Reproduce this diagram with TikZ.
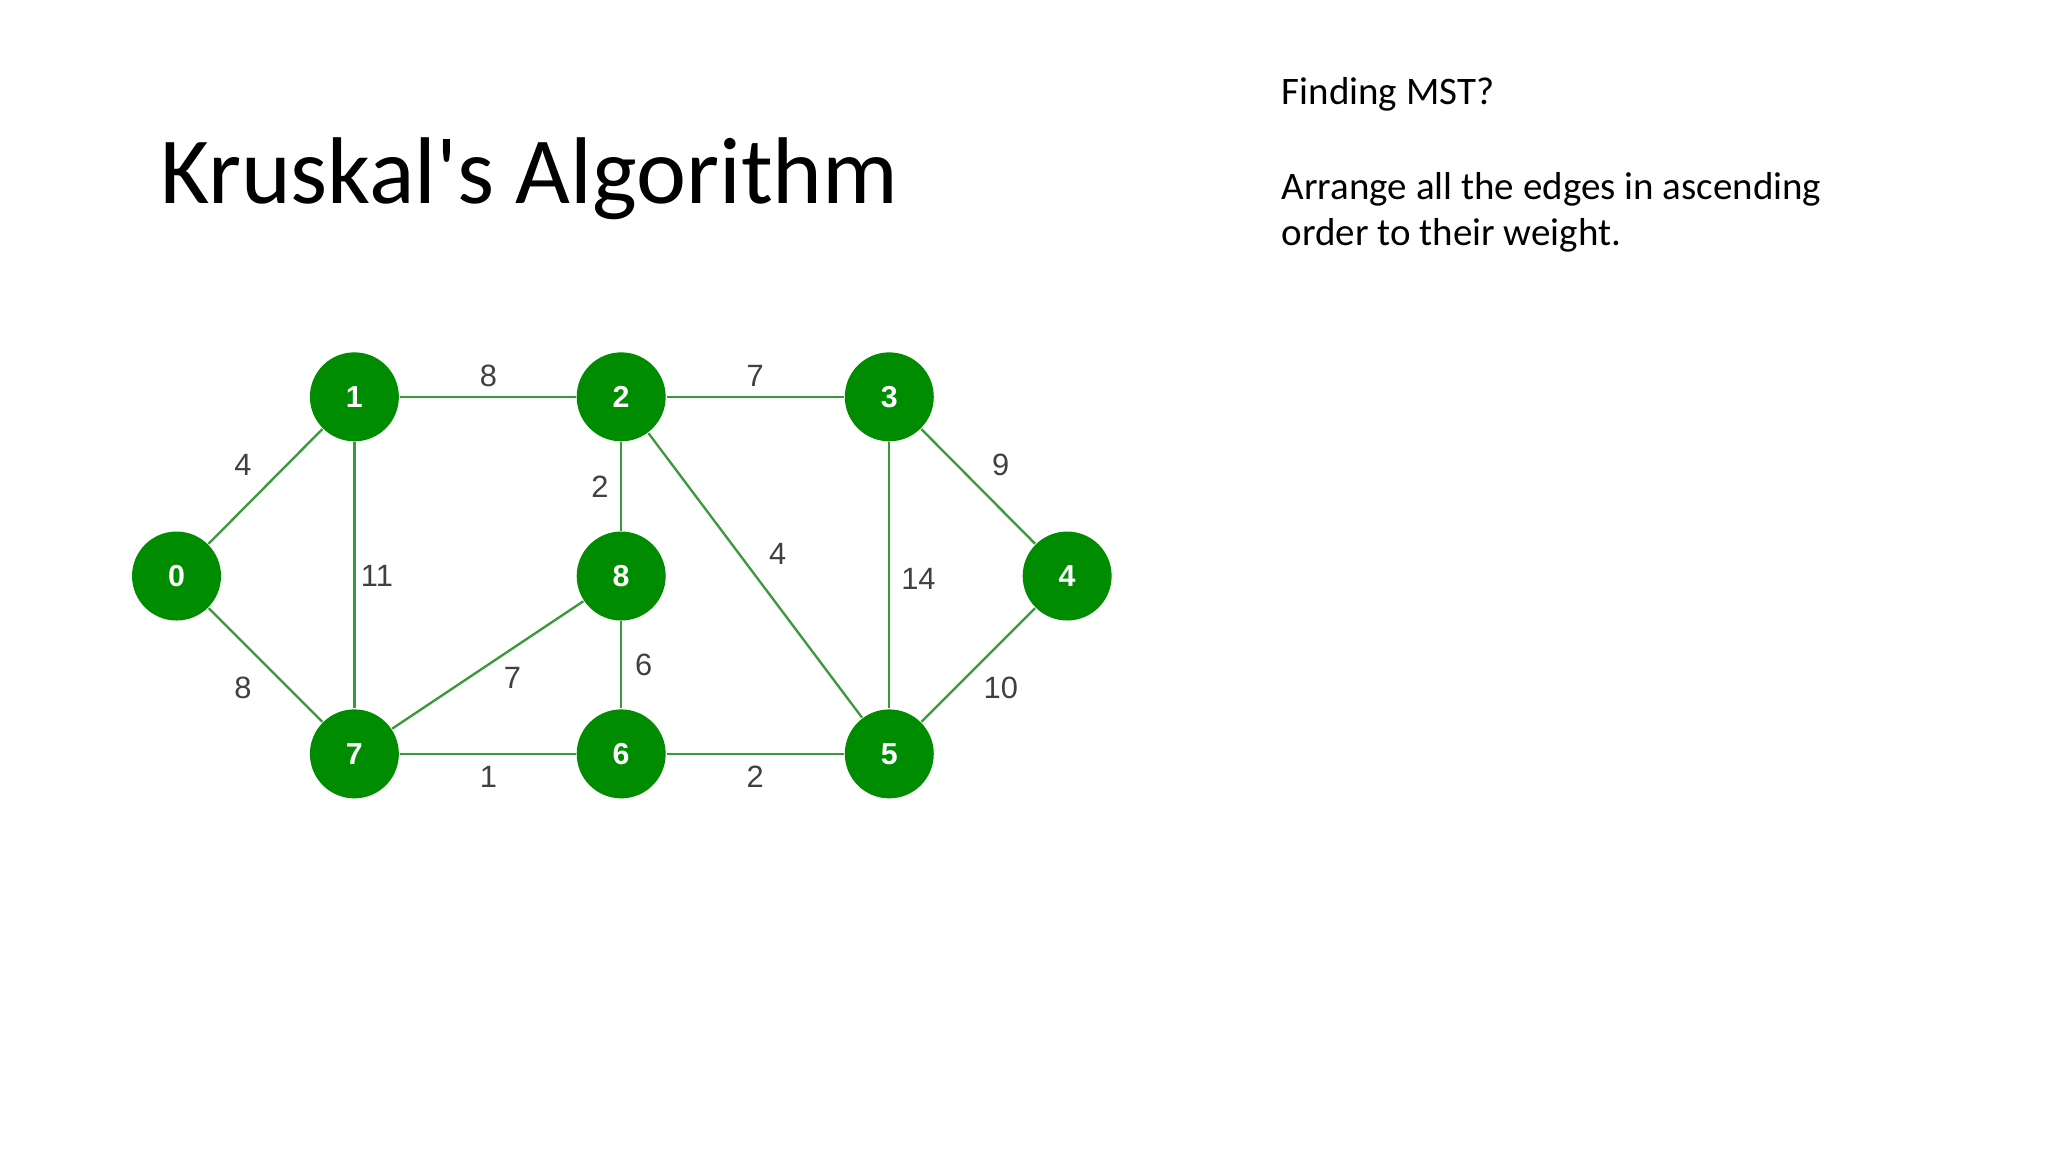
\documentclass[tikz,border=0pt]{standalone}
\usepackage{fontspec}
\setmainfont{Carlito}
\newfontfamily\titlefont{Carlito}
\newfontfamily\arialf{Liberation Sans}
\definecolor{gnode}{HTML}{008C00}
\definecolor{gedge}{HTML}{3A9A3A}
\definecolor{glab}{HTML}{404040}
\begin{document}
\begin{tikzpicture}[x=0.01cm,y=-0.01cm,
  vert/.style={circle,fill=gnode,minimum size=0.67cm,inner sep=0pt,text=white,font=\arialf\bfseries\fontsize{6.5}{7}\selectfont},
  wlab/.style={text=glab,font=\arialf\fontsize{6.6}{8}\selectfont,inner sep=0pt},
  edge/.style={gedge,line width=0.5pt},
  rtext/.style={anchor=base west,font=\fontsize{8.35}{10}\selectfont,inner sep=0pt}]
\useasboundingbox (0,0) rectangle (1543,868);
\node[anchor=base west,font=\titlefont\fontsize{20.3}{24}\selectfont,inner sep=0pt] (title) at (120,153) {Kruskal's Algorithm};
\node[rtext] (t1) at (965,79) {Finding MST?};
\node[rtext] (t2) at (965,150) {Arrange all the edges in ascending};
\node[rtext] (t3) at (965,185) {order to their weight.};
\node[vert] (n0) at (133,434) {0};
\node[vert] (n1) at (267,299) {1};
\node[vert] (n2) at (468,299) {2};
\node[vert] (n3) at (670,299) {3};
\node[vert] (n4) at (804,434) {4};
\node[vert] (n8) at (468,434) {8};
\node[vert] (n7) at (267,568) {7};
\node[vert] (n6) at (468,568) {6};
\node[vert] (n5) at (670,568) {5};
\draw[edge] (n0)--(n1); \draw[edge] (n0)--(n7); \draw[edge] (n1)--(n2); \draw[edge] (n1)--(n7);
\draw[edge] (n2)--(n3); \draw[edge] (n2)--(n8); \draw[edge] (n2)--(n5); \draw[edge] (n3)--(n4);
\draw[edge] (n3)--(n5); \draw[edge] (n4)--(n5); \draw[edge] (n8)--(n7); \draw[edge] (n8)--(n6);
\draw[edge] (n7)--(n6); \draw[edge] (n6)--(n5);
\node[wlab] (l12) at (368,283) {8};
\node[wlab] (l23) at (569,283) {7};
\node[wlab] (l01) at (183,350) {4};
\node[wlab] (l28) at (452,367) {2};
\node[wlab] (l17) at (284,434) {11};
\node[wlab] (l25) at (586,417) {4};
\node[wlab] (l35) at (692,436) {14};
\node[wlab] (l34) at (754,350) {9};
\node[wlab] (l07) at (183,518) {8};
\node[wlab] (l87) at (386,511) {7};
\node[wlab] (l86) at (485,501) {6};
\node[wlab] (l45) at (754,518) {10};
\node[wlab] (l76) at (368,585) {1};
\node[wlab] (l65) at (569,585) {2};
\end{tikzpicture}
\end{document}
